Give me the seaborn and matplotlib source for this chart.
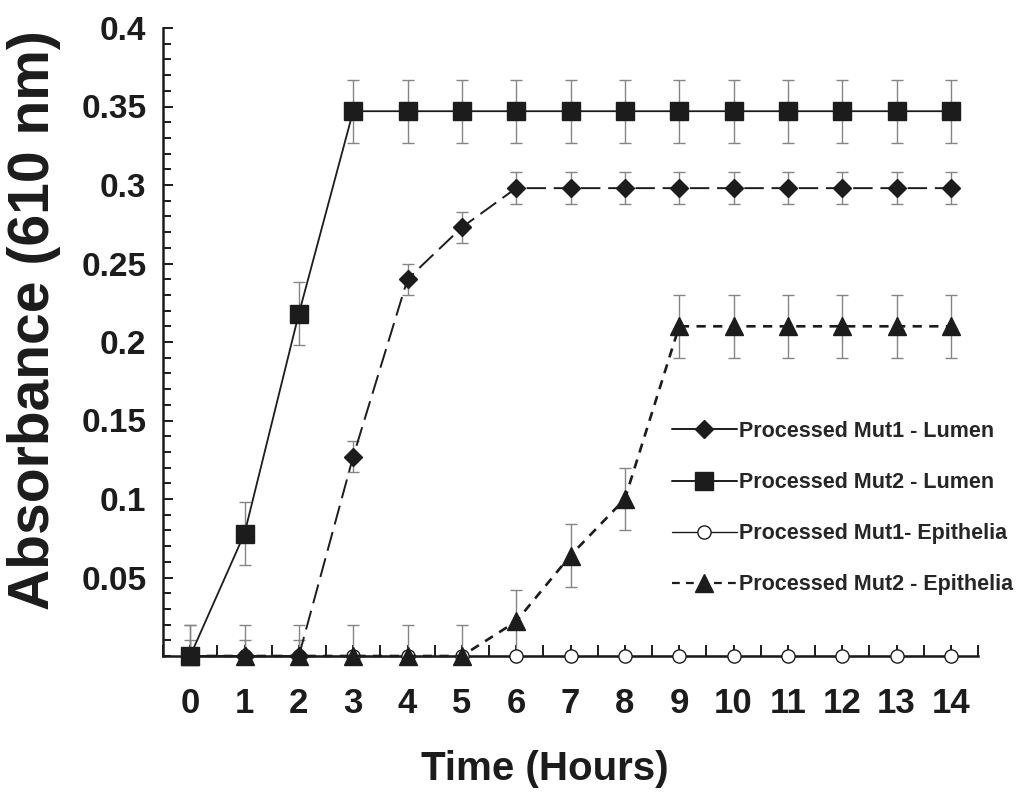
import numpy as np
import pandas as pd
import seaborn as sns
import matplotlib.pyplot as plt
from matplotlib.lines import Line2D
from matplotlib.ticker import MultipleLocator, FixedLocator

# --- data ---
hours = list(range(15))
mut1_lumen = [0, 0, 0, 0.127, 0.240, 0.273, 0.298, 0.298, 0.298, 0.298, 0.298, 0.298, 0.298, 0.298, 0.298]
mut2_lumen = [0, 0.078, 0.218, 0.347, 0.347, 0.347, 0.347, 0.347, 0.347, 0.347, 0.347, 0.347, 0.347, 0.347, 0.347]
mut1_epi = [0] * 15
mut2_epi = [0, 0, 0, 0, 0, 0, 0.022, 0.064, 0.100, 0.210, 0.210, 0.210, 0.210, 0.210, 0.210]

err_mut1_lumen = [0.01] * 15
err_mut2_lumen = [0.02] * 15
err_mut1_epi = [0] * 15
err_mut2_epi = [0.02] * 15

labels = ["Processed Mut1 - Lumen", "Processed Mut2 - Lumen",
          "Processed Mut1- Epithelia", "Processed Mut2 - Epithelia"]
yticks = [0.05, 0.1, 0.15, 0.2, 0.25, 0.3, 0.35, 0.4]
ytick_labels = ["0.05", "0.1", "0.15", "0.2", "0.25", "0.3", "0.35", "0.4"]

# --- style ---
sns.set_theme(style="ticks")
plt.rcParams["font.family"] = ["Liberation Sans", "DejaVu Sans"]
plt.rcParams["font.weight"] = "bold"

ink = "#1c1c1c"
errc = "#858585"

fig = plt.figure(figsize=(10.18, 7.94), dpi=100)
ax = fig.add_axes([163 / 1018, 1 - 656 / 794, 815 / 1018, 628 / 794])

# series: (values, errors, marker, ms, face, linestyle, lw, zorder)
series = [
    (mut1_epi, err_mut1_epi, "o", 9.5, "white", "-", 1.0, 3.0),
    (mut1_lumen, err_mut1_lumen, "D", 9.0, ink, (0, (10, 4)), 1.4, 3.1),
    (mut2_epi, err_mut2_epi, "^", 12.5, ink, (0, (3.5, 2.8)), 1.9, 3.2),
    (mut2_lumen, err_mut2_lumen, "s", 13.0, ink, "-", 1.3, 3.3),
]

for vals, errs, mk, ms, face, ls, lw, z in series:
    ax.errorbar(hours, vals, yerr=errs, fmt="none", ecolor=errc, elinewidth=1.0,
                capsize=4, capthick=1.0, zorder=2)
    sns.lineplot(x=hours, y=vals, ax=ax, color=ink, marker=mk, markersize=ms,
                 markerfacecolor=face, markeredgecolor=ink, markeredgewidth=1.0,
                 linestyle=ls, linewidth=lw, zorder=z, clip_on=False)

ax.set_xlim(-0.5, 14.5)
ax.set_ylim(0, 0.4)

ax.xaxis.set_major_locator(FixedLocator(hours))
ax.xaxis.set_minor_locator(MultipleLocator(0.5))
ax.yaxis.set_major_locator(FixedLocator(yticks))
ax.yaxis.set_minor_locator(MultipleLocator(0.01))
ax.set_yticklabels(ytick_labels)

ax.tick_params(axis="both", which="both", direction="in", color=ink, width=1.4)
ax.tick_params(axis="x", which="major", length=8, pad=22, labelsize=25)
ax.tick_params(axis="x", which="minor", length=8)
ax.tick_params(axis="y", which="major", length=7, pad=12, labelsize=24)
ax.tick_params(axis="y", which="minor", length=6)

sns.despine(ax=ax)
for side in ["left", "bottom"]:
    ax.spines[side].set_linewidth(1.8)
    ax.spines[side].set_color(ink)

ax.set_xlabel("Time (Hours)", fontsize=29, fontweight="bold", color=ink)
ax.set_ylabel("Absorbance (610 nm)", fontsize=41, fontweight="bold", color=ink)
ax.xaxis.set_label_coords(0.469, -0.15)
ax.yaxis.set_label_coords(-0.125, 0.535)
for t in ax.get_xticklabels() + ax.get_yticklabels():
    t.set_color(ink)

# legend with its own handles (Mut1 lumen shows a solid line in the key)
handles = [
    Line2D([], [], color=ink, lw=1.4, marker="D", ms=9, mfc=ink, mec=ink),
    Line2D([], [], color=ink, lw=1.4, marker="s", ms=13, mfc=ink, mec=ink),
    Line2D([], [], color=ink, lw=1.0, marker="o", ms=9.5, mfc="white", mec=ink),
    Line2D([], [], color=ink, lw=1.6, ls=(0, (3.5, 2.8)), marker="^", ms=12.5, mfc=ink, mec=ink),
]
ax.legend(handles, labels, loc="upper left", bbox_to_anchor=(672 / 1018, 1 - 421 / 794),
          bbox_transform=fig.transFigure, frameon=False,
          handlelength=3.0, handletextpad=0.1, labelspacing=1.4, borderpad=0,
          borderaxespad=0, prop={"weight": "bold", "size": 15.5})

fig.savefig("out.png", dpi=100)
